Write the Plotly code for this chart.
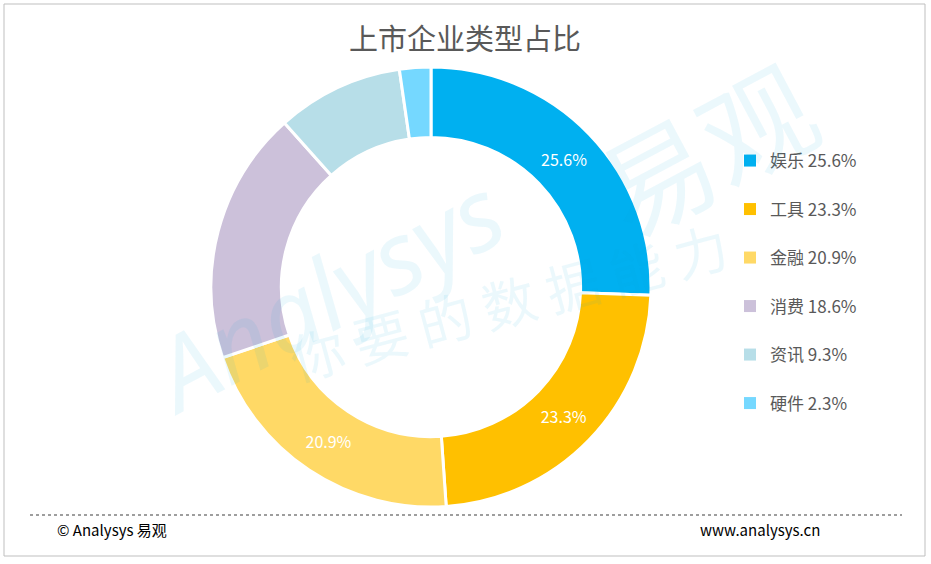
import plotly.graph_objects as go

# chart data
categories = ["娱乐", "工具", "金融", "消费", "资讯", "硬件"]
shares = [25.6, 23.3, 20.9, 18.6, 9.3, 2.3]
shown_labels = ["25.6%", "23.3%", "20.9%", "", "", ""]
colors = ["#00B0F0", "#FFC000", "#FFD966", "#CCC1DA", "#B7DEE8", "#75D8FF"]

W, H = 931, 564
cx, cy, R = 431, 287, 220


def px(x):
    return x / W


def py(y):
    return (H - y) / H


fig = go.Figure()

fig.add_trace(go.Pie(
    labels=categories,
    values=shares,
    text=shown_labels,
    textinfo="text",
    textposition="inside",
    insidetextorientation="horizontal",
    textfont=dict(color="white", size=16, family="Noto Sans CJK SC"),
    hole=0.68,
    sort=False,
    direction="clockwise",
    rotation=0,
    marker=dict(colors=colors, line=dict(color="white", width=3)),
    showlegend=False,
    hoverinfo="label+percent",
    domain=dict(x=[px(cx - R), px(cx + R)], y=[py(cy + R), py(cy - R)]),
))

# legend entries as dummy square markers, one group each for spacing
for name, val, col in zip(categories, shares, colors):
    fig.add_trace(go.Scatter(
        x=[None], y=[None], mode="markers",
        marker=dict(symbol="square", size=11, color=col),
        name=f"{name} {val}%",
        legendgroup=name,
        showlegend=True,
    ))

# faint watermark
wm = "rgba(0,160,220,0.08)"
fig.add_annotation(x=px(325), y=py(292), text="Analysys", textangle=-28,
                   font=dict(size=100, color=wm, family="Noto Sans", style="italic"))
fig.add_annotation(x=px(705), y=py(145), text="易观", textangle=-28,
                   font=dict(size=112, color=wm, family="Noto Sans CJK SC"))
fig.add_annotation(x=px(508), y=py(300), text="你 要 的 数 据 能 力", textangle=-15,
                   font=dict(size=54, color=wm, family="Noto Sans CJK SC"))
fig.update_annotations(xref="paper", yref="paper", xanchor="center", yanchor="middle",
                       showarrow=False)

fig.update_layout(
    width=W, height=H,
    margin=dict(l=0, r=0, t=0, b=0),
    paper_bgcolor="white",
    plot_bgcolor="rgba(0,0,0,0)",
    xaxis=dict(visible=False),
    yaxis=dict(visible=False),
    title=dict(text="上市企业类型占比", x=px(465), xanchor="center", y=py(40), yanchor="middle",
               font=dict(size=29, color="#595959", family="Noto Sans CJK SC")),
    legend=dict(x=px(730), y=py(143), xanchor="left", yanchor="top",
                tracegroupgap=23.4, itemsizing="constant",
                font=dict(size=17, color="#595959", family="Noto Sans CJK SC"),
                bgcolor="rgba(0,0,0,0)"),
    shapes=[
        dict(type="rect", xref="paper", yref="paper", x0=px(4), x1=px(925),
             y0=py(556), y1=py(4), line=dict(color="#BFBFBF", width=1)),
        dict(type="line", xref="paper", yref="paper", x0=px(30), x1=px(902),
             y0=py(515), y1=py(515), line=dict(color="#7F7F7F", width=1.5, dash="dot")),
    ],
)

fig.add_annotation(x=px(55), y=py(529), xref="paper", yref="paper", xanchor="left",
                   yanchor="middle", text="© Analysys 易观", showarrow=False,
                   font=dict(size=15, color="black", family="Noto Sans CJK SC"))
fig.add_annotation(x=px(822), y=py(529), xref="paper", yref="paper", xanchor="right",
                   yanchor="middle", text="www.analysys.cn", showarrow=False,
                   font=dict(size=15, color="black", family="Noto Sans CJK SC"))

fig.write_html("out.html", config={"displayModeBar": False},
               post_script="document.body.style.margin='0';")
